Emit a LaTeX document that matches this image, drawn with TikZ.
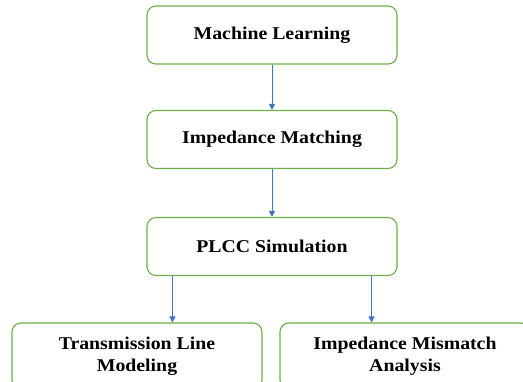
\documentclass[tikz,border=0pt]{standalone}
\usepackage{fontspec}
\setmainfont{Liberation Serif}[FakeStretch=1.1]
\usetikzlibrary{arrows.meta}
\definecolor{boxgreen}{RGB}{112,173,71}
\definecolor{arrowblue}{RGB}{68,114,196}
\tikzset{
  box/.style={draw=boxgreen, line width=1.1pt, rounded corners=9pt, fill=white,
    minimum width=250pt, minimum height=58pt, align=center, inner sep=0pt,
    font=\fontsize{18}{22}\selectfont\bfseries},
  flow/.style={draw=arrowblue, line width=1pt, -{Triangle[width=6pt,length=6pt]}}
}
\begin{document}
\begin{tikzpicture}[x=1pt,y=-1pt]
\useasboundingbox (0,0) rectangle (523,381);
\clip (0,0) rectangle (523,381);
\node[box] (ml) at (272,35) {Machine Learning};
\node[box] (im) at (272,139.5) {Impedance Matching};
\node[box] (plcc) at (272,246.5) {PLCC Simulation};
\node[box, minimum height=66pt] (tl) at (137,356) {Transmission Line\\Modeling};
\node[box, minimum height=66pt] (ima) at (405,356) {Impedance Mismatch\\Analysis};
\draw[flow] (ml.south) -- (im.north);
\draw[flow] (im.south) -- (plcc.north);
\draw[flow] ([xshift=26pt]plcc.south west) -- ([xshift=26pt]plcc.south west |- tl.north);
\draw[flow] ([xshift=-26pt]plcc.south east) -- ([xshift=-26pt]plcc.south east |- ima.north);
\end{tikzpicture}
\end{document}
